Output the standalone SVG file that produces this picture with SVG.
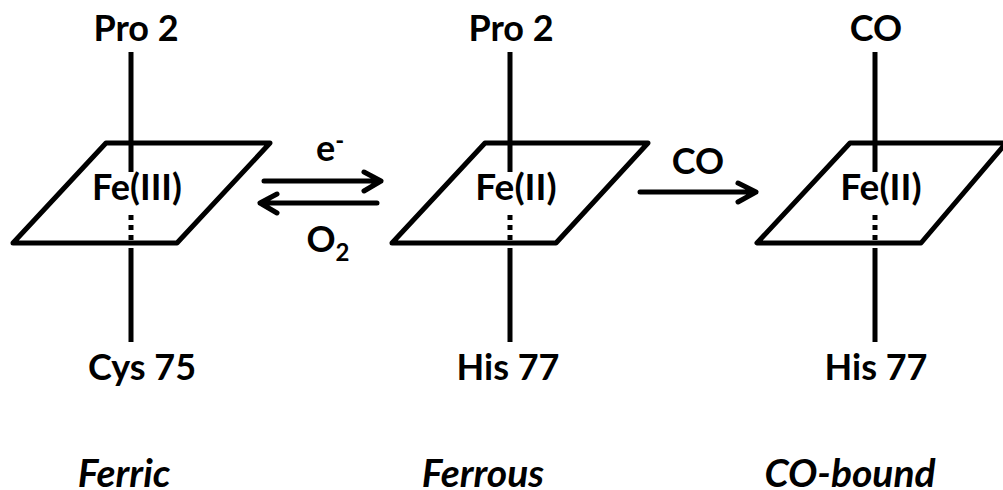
<svg xmlns="http://www.w3.org/2000/svg" width="1003" height="490" viewBox="0 0 1003 490">
<defs>
<style>
text{font-family:Lato,"Open Sans","Liberation Sans",sans-serif;font-weight:700;font-size:36px;fill:#000;text-anchor:middle}
.i{font-style:italic;font-size:39px}
.f{font-size:37px}
.s{stroke:#000;stroke-width:5;fill:none}
.l{stroke:#000;stroke-width:5;fill:none;stroke-linejoin:round;stroke-linecap:round}
.d{stroke:#000;stroke-width:5;fill:none;stroke-dasharray:5 5}
.a{stroke:#000;stroke-width:5;fill:none;stroke-linejoin:round;stroke-linecap:round}
</style>
</defs>
<g id="ferric">
<path class="s" d="M131 52V172M131 248V342"/>
<path class="l" d="M13 243L106 143H270L177 243Z"/>
<path class="d" d="M131 215V243"/>
<text x="136" y="41">Pro 2</text>
<text x="137" y="200">Fe(III)</text>
<text x="142" y="380">Cys 75</text>
<text class="i" x="124" y="487">Ferric</text>
</g>
<g id="ferrous">
<path class="s" d="M510 52V172M510 248V342"/>
<path class="l" d="M392 243L485 143H648L556 243Z"/>
<path class="d" d="M510 215V243"/>
<text x="511" y="41">Pro 2</text>
<text class="f" x="516" y="200">Fe(II)</text>
<text x="508" y="380">His 77</text>
<text class="i" x="483" y="487">Ferrous</text>
</g>
<g id="cobound">
<path class="s" d="M875 52V172M875 248V342"/>
<path class="l" d="M1006 143H850L757 243H921L1006 143"/>
<path class="d" d="M875 215V243"/>
<text x="876" y="41">CO</text>
<text class="f" x="881" y="200">Fe(II)</text>
<text x="876" y="380">His 77</text>
<text class="i" x="850" y="487">CO-bound</text>
</g>
<g id="connectors">
<path class="a" d="M264 181H381M364 172L381 181L364 191"/>
<path class="a" d="M377 203H260M277 194L260 203L277 213"/>
<path class="a" d="M640 192H756M738 183L756 192L738 202"/>
</g>
<g id="labels">
<text x="330" y="161">e<tspan font-size="24" dy="-12">-</tspan></text>
<text x="328" y="252">O<tspan font-size="24" dy="9">2</tspan></text>
<text x="698" y="174" font-size="34">CO</text>
</g>
</svg>
